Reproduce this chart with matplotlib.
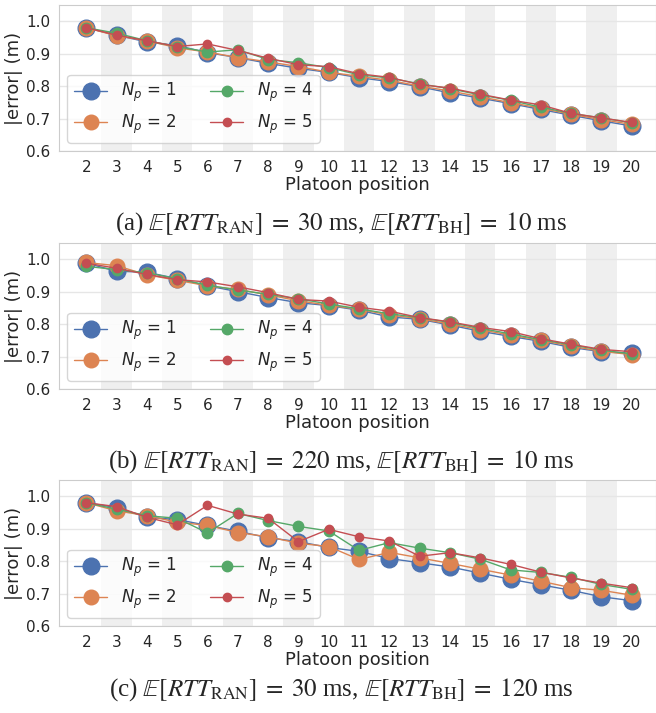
import numpy as np
import matplotlib
matplotlib.use("Agg")
import matplotlib.pyplot as plt
import seaborn as sns

sns.set_style("whitegrid")
plt.rcParams["font.family"] = ["DejaVu Sans"]

positions = list(range(2, 21))
np_labels = [1, 2, 4, 5]

# panel (a): RTT_RAN = 30 ms, RTT_BH = 10 ms
a_np1 = [0.980, 0.957, 0.936, 0.925, 0.903, 0.888, 0.870, 0.855, 0.842, 0.826,
         0.814, 0.798, 0.779, 0.763, 0.746, 0.728, 0.710, 0.693, 0.677]
a_np2 = [0.980, 0.955, 0.940, 0.918, 0.905, 0.888, 0.875, 0.860, 0.843, 0.830,
         0.818, 0.800, 0.785, 0.767, 0.749, 0.732, 0.713, 0.697, 0.682]
a_np4 = [0.980, 0.963, 0.940, 0.922, 0.905, 0.912, 0.882, 0.872, 0.857, 0.835,
         0.825, 0.807, 0.792, 0.773, 0.756, 0.735, 0.716, 0.702, 0.687]
a_np5 = [0.980, 0.957, 0.940, 0.922, 0.930, 0.910, 0.886, 0.866, 0.860, 0.838,
         0.827, 0.805, 0.794, 0.775, 0.757, 0.742, 0.716, 0.702, 0.688]

# panel (b): RTT_RAN = 220 ms, RTT_BH = 10 ms
b_np1 = [0.988, 0.963, 0.960, 0.940, 0.918, 0.900, 0.882, 0.866, 0.857, 0.843,
         0.822, 0.815, 0.797, 0.778, 0.762, 0.747, 0.728, 0.715, 0.710]
b_np2 = [0.990, 0.980, 0.952, 0.935, 0.918, 0.907, 0.890, 0.872, 0.858, 0.846,
         0.828, 0.817, 0.800, 0.783, 0.766, 0.750, 0.732, 0.716, 0.706]
b_np4 = [0.978, 0.968, 0.958, 0.940, 0.920, 0.905, 0.892, 0.878, 0.862, 0.847,
         0.832, 0.820, 0.805, 0.787, 0.770, 0.752, 0.736, 0.720, 0.708]
b_np5 = [0.988, 0.972, 0.953, 0.937, 0.930, 0.915, 0.897, 0.876, 0.871, 0.852,
         0.840, 0.820, 0.807, 0.790, 0.777, 0.755, 0.738, 0.722, 0.715]

# panel (c): RTT_RAN = 30 ms, RTT_BH = 120 ms
c_np1 = [0.980, 0.965, 0.935, 0.928, 0.910, 0.892, 0.872, 0.860, 0.842, 0.830,
         0.808, 0.795, 0.782, 0.763, 0.744, 0.727, 0.710, 0.690, 0.678]
c_np2 = [0.980, 0.955, 0.940, 0.920, 0.910, 0.888, 0.875, 0.855, 0.845, 0.805,
         0.827, 0.810, 0.793, 0.775, 0.757, 0.738, 0.718, 0.710, 0.695]
c_np4 = [0.980, 0.960, 0.940, 0.932, 0.887, 0.947, 0.925, 0.907, 0.893, 0.833,
         0.857, 0.840, 0.826, 0.806, 0.773, 0.765, 0.750, 0.728, 0.713]
c_np5 = [0.980, 0.968, 0.935, 0.912, 0.972, 0.945, 0.932, 0.860, 0.898, 0.875,
         0.862, 0.815, 0.826, 0.810, 0.790, 0.766, 0.748, 0.732, 0.718]

EQ = r"\;=\;"
panels = [
    ([a_np1, a_np2, a_np4, a_np5],
     r"(a) $\mathbb{E}[RTT_{\mathrm{RAN}}]" + EQ + r"30$ ms, $\mathbb{E}[RTT_{\mathrm{BH}}]" + EQ + r"10$ ms"),
    ([b_np1, b_np2, b_np4, b_np5],
     r"(b) $\mathbb{E}[RTT_{\mathrm{RAN}}]" + EQ + r"220$ ms, $\mathbb{E}[RTT_{\mathrm{BH}}]" + EQ + r"10$ ms"),
    ([c_np1, c_np2, c_np4, c_np5],
     r"(c) $\mathbb{E}[RTT_{\mathrm{RAN}}]" + EQ + r"30$ ms, $\mathbb{E}[RTT_{\mathrm{BH}}]" + EQ + r"120$ ms"),
]

colors = ["#4C72B0", "#DD8452", "#55A868", "#C44E52"]
msizes = [12, 10.5, 7.5, 6]

W, H = 656, 713
fig = plt.figure(figsize=(W / 100, H / 100), dpi=100)

tops = [5, 243, 480]
caps = [224, 462, 690]
ax_h = 146
left = 59

for (series, caption), top, cap in zip(panels, tops, caps):
    ax = fig.add_axes([left / W, 1 - (top + ax_h) / H, 1 - left / W, ax_h / H])
    for p in positions:
        if p % 2 == 1:
            ax.axvspan(p - 0.5, p + 0.5, color="#efefef", lw=0, zorder=0)
    for vals, c, ms, n in zip(series, colors, msizes, np_labels):
        ax.plot(positions, vals, "-o", color=c, ms=ms, lw=1,
                label=rf"$N_p$ = {n}", zorder=3)
    ax.set_xlim(1.1, 20.8)
    ax.set_ylim(0.6, 1.05)
    ax.set_xticks(positions)
    ax.set_yticks([0.6, 0.7, 0.8, 0.9, 1.0])
    ax.grid(axis="x", visible=False)
    ax.grid(axis="y", color="#e6e6e6", lw=1)
    ax.set_axisbelow(True)
    ax.tick_params(labelsize=11, pad=3, colors="#262626")
    ax.set_xlabel("Platoon position", fontsize=13, labelpad=1, color="#262626")
    ax.set_ylabel("|error| (m)", fontsize=13, labelpad=2, color="#262626")
    for s in ax.spines.values():
        s.set_color("#cccccc")
    ax.legend(loc="lower left", ncol=2, fontsize=12, frameon=True)
    fig.text(0.52, 1 - cap / H, caption, ha="center", va="center",
             fontsize=18, family="Liberation Serif", math_fontfamily="stix")

fig.savefig("out.png", dpi=100)
